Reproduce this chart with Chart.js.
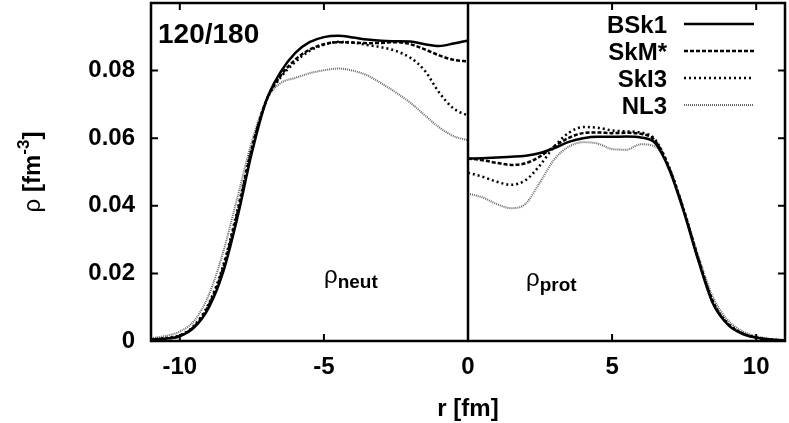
<!DOCTYPE html>
<html>
<head>
<meta charset="utf-8">
<script src="https://cdn.jsdelivr.net/npm/chart.js@4"></script>
<style>
  body { margin: 0; background: #fff; }
  canvas { display: block; }
</style>
</head>
<body>
<canvas id="densChart" width="789" height="423"></canvas>
<script>
// radius grids (neutrons drawn mirrored on the negative side)
const rNeut = [-11, -10.5, -10, -9.5, -9, -8.5, -8, -7.5, -7, -6.5, -6, -5.5, -5, -4.5, -4, -3.5, -3, -2.5, -2, -1.5, -1, -0.5, 0];
const rProt = [0, 0.5, 1, 1.5, 2, 2.5, 3, 3.5, 4, 4.5, 5, 5.5, 6, 6.5, 7, 7.5, 8, 8.5, 9, 9.5, 10, 10.5, 11];

const models = ['BSk1', 'SkM*', 'SkI3', 'NL3'];

const neutBSk1 = [0.0004, 0.0007, 0.0014, 0.0040, 0.0098, 0.0203, 0.0366, 0.0557, 0.0711, 0.0796, 0.0852, 0.0884, 0.0899, 0.0903, 0.0898, 0.0892, 0.0888, 0.0887, 0.0886, 0.0878, 0.0873, 0.0880, 0.0889];
const neutSkM = [0.0004, 0.0007, 0.0015, 0.0043, 0.0105, 0.0215, 0.0380, 0.0568, 0.0712, 0.0785, 0.0832, 0.0862, 0.0878, 0.0884, 0.0883, 0.0881, 0.0882, 0.0884, 0.0878, 0.0863, 0.0845, 0.0832, 0.0827];
const neutSkI3 = [0.0005, 0.0009, 0.0017, 0.0046, 0.0110, 0.0222, 0.0388, 0.0572, 0.0710, 0.0780, 0.0825, 0.0858, 0.0876, 0.0885, 0.0883, 0.0876, 0.0869, 0.0858, 0.0838, 0.0800, 0.0735, 0.0688, 0.0667];
const neutNL3 = [0.0008, 0.0015, 0.0028, 0.0060, 0.0135, 0.0262, 0.0425, 0.0590, 0.0712, 0.0763, 0.0778, 0.0792, 0.0801, 0.0806, 0.0800, 0.0786, 0.0762, 0.0735, 0.0705, 0.0668, 0.0632, 0.0606, 0.0594];

const protBSk1 = [0.0540, 0.0541, 0.0543, 0.0545, 0.0548, 0.0556, 0.0571, 0.0589, 0.0600, 0.0604, 0.0604, 0.0605, 0.0602, 0.0585, 0.0504, 0.0379, 0.0236, 0.0111, 0.0050, 0.0022, 0.0010, 0.0004, 0.0002];
const protSkM = [0.0540, 0.0535, 0.0527, 0.0521, 0.0526, 0.0546, 0.0576, 0.0601, 0.0615, 0.0617, 0.0615, 0.0616, 0.0613, 0.0592, 0.0508, 0.0383, 0.0240, 0.0115, 0.0052, 0.0023, 0.0010, 0.0004, 0.0002];
const protSkI3 = [0.0498, 0.0486, 0.0471, 0.0462, 0.0476, 0.0520, 0.0576, 0.0616, 0.0633, 0.0631, 0.0623, 0.0620, 0.0617, 0.0595, 0.0510, 0.0385, 0.0242, 0.0117, 0.0054, 0.0024, 0.0011, 0.0005, 0.0002];
const protNL3 = [0.0436, 0.0425, 0.0405, 0.0393, 0.0406, 0.0470, 0.0538, 0.0575, 0.0588, 0.0584, 0.0568, 0.0566, 0.0582, 0.0575, 0.0506, 0.0386, 0.0250, 0.0130, 0.0063, 0.0030, 0.0014, 0.0006, 0.0003];

const xTicks = [-10, -5, 0, 5, 10];
const yTicks = [0, 0.02, 0.04, 0.06, 0.08];

const neutAll = [neutBSk1, neutSkM, neutSkI3, neutNL3];
const protAll = [protBSk1, protSkM, protSkI3, protNL3];
const styles = [
  { color: '#000', width: 2.5, dash: [] },
  { color: '#000', width: 2.5, dash: [4, 2] },
  { color: '#000', width: 2.5, dash: [2, 3] },
  { color: '#666', width: 2, dash: [1, 1] }
];

const FONT = '"Liberation Sans", Arial, Helvetica, sans-serif';

// one dataset per model; a null point at r=0 splits neutron and proton halves
function buildData(i) {
  const pts = rNeut.map((r, k) => ({ x: r, y: neutAll[i][k] }));
  pts.push({ x: 0, y: null });
  rProt.forEach((r, k) => pts.push({ x: r, y: protAll[i][k] }));
  return pts;
}

const datasets = models.map((m, i) => ({
  label: m,
  data: buildData(i),
  borderColor: styles[i].color,
  borderWidth: styles[i].width,
  borderDash: styles[i].dash,
  pointRadius: 0,
  cubicInterpolationMode: 'monotone',
  spanGaps: false,
  fill: false
}));

function subText(ctx, x, y, main, sub, mainFont, subFont, dy) {
  ctx.font = mainFont;
  ctx.fillText(main, x, y);
  const w = ctx.measureText(main).width;
  ctx.font = subFont;
  ctx.fillText(sub, x + w, y + dy);
}

function noPad(s) {
  s.paddingTop = 0; s.paddingBottom = 0; s.paddingLeft = 0; s.paddingRight = 0;
}

const decor = {
  id: 'decor',
  afterDatasetsDraw(chart) {
    const { ctx, chartArea: a, scales: { x, y } } = chart;
    ctx.save();
    ctx.strokeStyle = '#000';
    ctx.setLineDash([]);
    ctx.lineWidth = 2.5;
    ctx.strokeRect(a.left, a.top, a.right - a.left, a.bottom - a.top);

    // divider at r = 0
    const x0 = x.getPixelForValue(0);
    ctx.beginPath();
    ctx.moveTo(x0, a.top);
    ctx.lineTo(x0, a.bottom);
    ctx.stroke();

    // inward ticks on all four sides
    ctx.lineWidth = 2;
    const tl = 7;
    xTicks.forEach(v => {
      const px = x.getPixelForValue(v);
      ctx.beginPath();
      ctx.moveTo(px, a.bottom); ctx.lineTo(px, a.bottom - tl);
      ctx.moveTo(px, a.top); ctx.lineTo(px, a.top + tl);
      ctx.stroke();
    });
    yTicks.forEach(v => {
      const py = y.getPixelForValue(v);
      ctx.beginPath();
      ctx.moveTo(a.left, py); ctx.lineTo(a.left + tl, py);
      ctx.moveTo(a.right, py); ctx.lineTo(a.right - tl, py);
      ctx.stroke();
    });

    ctx.fillStyle = '#000';
    ctx.textBaseline = 'alphabetic';
    ctx.textAlign = 'left';
    ctx.font = 'bold 28px ' + FONT;
    ctx.fillText('120/180', a.left + 7, a.top + 40);

    // density labels
    subText(ctx, 324, 283, 'ρ', 'neut', '24px ' + FONT, 'bold 19px ' + FONT, 5);
    subText(ctx, 526, 286, 'ρ', 'prot', '24px ' + FONT, 'bold 19px ' + FONT, 5);

    // legend
    ctx.font = 'bold 24px ' + FONT;
    ctx.textAlign = 'right';
    models.forEach((m, i) => {
      const ly = 24 + i * 27;
      ctx.fillStyle = '#000';
      ctx.fillText(m, 667, ly + 9);
      ctx.strokeStyle = styles[i].color;
      ctx.lineWidth = styles[i].width;
      ctx.setLineDash(styles[i].dash);
      ctx.beginPath();
      ctx.moveTo(684, ly);
      ctx.lineTo(754, ly);
      ctx.stroke();
    });
    ctx.setLineDash([]);

    // axis titles
    ctx.fillStyle = '#000';
    ctx.textAlign = 'center';
    ctx.font = 'bold 24px ' + FONT;
    ctx.fillText('r [fm]', x0, 416);

    ctx.translate(40, 172);
    ctx.rotate(-Math.PI / 2);
    ctx.textAlign = 'left';
    const parts = [
      ['ρ ', '24px ' + FONT, 0],
      ['[fm', 'bold 24px ' + FONT, 0],
      ['-3', 'bold 17px ' + FONT, -11],
      [']', 'bold 24px ' + FONT, 0]
    ];
    let total = 0;
    parts.forEach(p => { ctx.font = p[1]; total += ctx.measureText(p[0]).width; });
    let cx = -total / 2;
    parts.forEach(p => {
      ctx.font = p[1];
      ctx.fillText(p[0], cx, p[2]);
      cx += ctx.measureText(p[0]).width;
    });
    ctx.restore();
  }
};

new Chart(document.getElementById('densChart'), {
  type: 'line',
  data: { datasets },
  options: {
    responsive: false,
    animation: false,
    layout: { padding: { top: 3, right: 4, left: 0, bottom: 0 } },
    plugins: { legend: { display: false }, tooltip: { enabled: false } },
    scales: {
      x: {
        type: 'linear',
        min: -11,
        max: 11,
        afterBuildTicks: (s) => { s.ticks = xTicks.map(v => ({ value: v })); },
        afterFit: (s) => { s.height = 82; noPad(s); },
        grid: { display: false, drawTicks: false },
        border: { display: false },
        ticks: { color: '#000', font: { family: FONT, size: 24, weight: 'bold' }, padding: 12, maxRotation: 0,
          callback: (v) => String(v) }
      },
      y: {
        min: 0,
        max: 0.1,
        afterBuildTicks: (s) => { s.ticks = yTicks.map(v => ({ value: v })); },
        afterFit: (s) => { s.width = 151; noPad(s); },
        grid: { display: false, drawTicks: false },
        border: { display: false },
        ticks: { color: '#000', font: { family: FONT, size: 24, weight: 'bold' }, padding: 16,
          callback: (v) => v === 0 ? '0' : v.toFixed(2) }
      }
    }
  },
  plugins: [decor]
});
</script>
</body>
</html>
